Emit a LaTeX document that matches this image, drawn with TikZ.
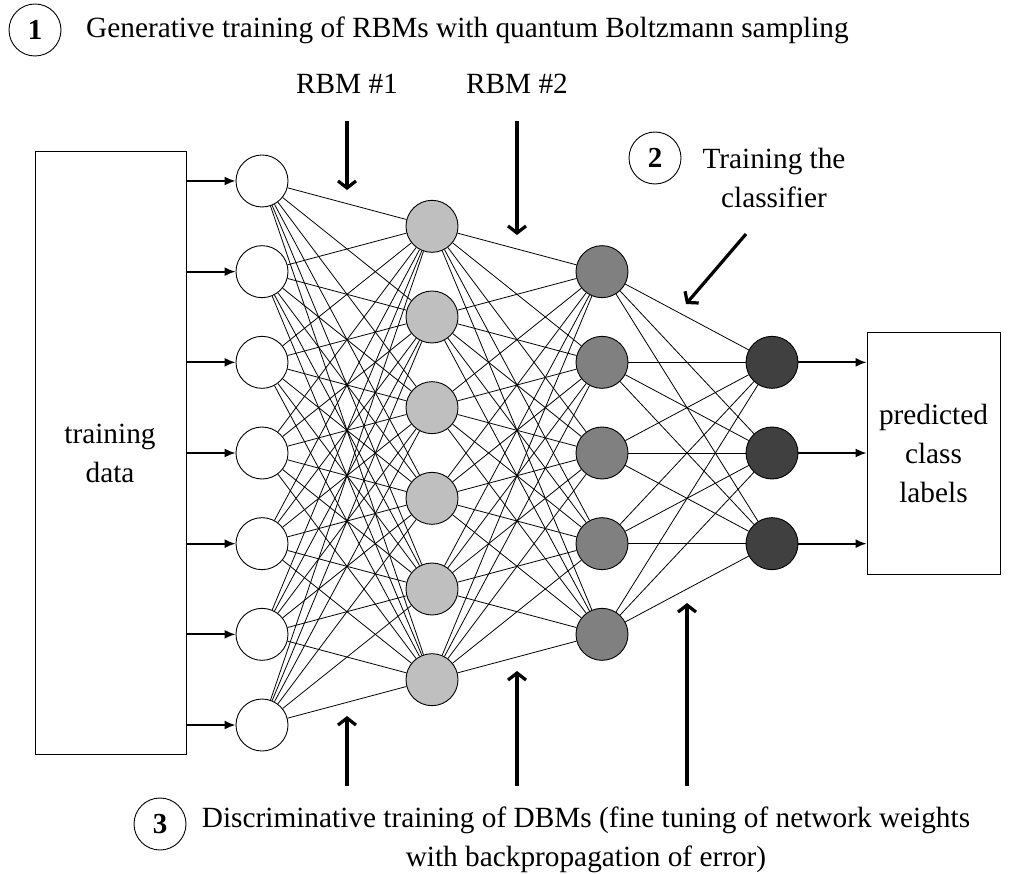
\documentclass[tikz,border=0pt]{standalone}
\usepackage{fontspec}
\setmainfont{Liberation Serif}
\usetikzlibrary{arrows.meta}
\tikzset{
  neuron/.style={circle, draw, line width=0.9pt, minimum size=52pt, inner sep=0pt},
  lay1/.style={neuron, fill=white},
  lay2/.style={neuron, fill=black!25},
  lay3/.style={neuron, fill=black!50},
  lay4/.style={neuron, fill=black!75},
  conn/.style={line width=0.8pt},
  inarrow/.style={line width=1.8pt, -{Latex[length=11pt,width=9pt]}},
  bigarrow/.style={line width=3.2pt, -{Straight Barb[length=7pt,width=18pt]}},
  numcirc/.style={circle, draw, line width=0.9pt, minimum size=52pt, inner sep=0pt, font=\fontsize{29}{34}\selectfont\bfseries},
  box/.style={draw, line width=0.9pt, inner sep=0pt},
  lbl/.style={align=center, inner sep=0pt}
}
\begin{document}
\begin{tikzpicture}[x=1pt, y=-1pt, font=\fontsize{29.3}{39}\selectfont]
\useasboundingbox (0,0) rectangle (1011,874);
\def\sp{90.67}
% boxes
\node[box, minimum width=151pt, minimum height=603pt] (tdata) at (110.5,452.5) {};
\node[lbl] (tdtext) at (110,453) {training\\data};
\node[box, minimum width=133pt, minimum height=242pt] (pred) at (933.5,453) {};
\node[lbl] (predtext) at (933.5,453) {predicted\\class\\labels};
% neurons
\foreach \k [count=\i] in {-3,...,3} \node[lay1] (a\i) at (262,453+\k*\sp) {};
\foreach \k [count=\i] in {-3,...,2} \node[lay2] (b\i) at (432,453+\k*\sp+0.5*\sp) {};
\foreach \k [count=\i] in {-2,...,2} \node[lay3] (c\i) at (602,453+\k*\sp) {};
\foreach \k [count=\i] in {-1,...,1} \node[lay4] (d\i) at (772,453+\k*\sp) {};
% connections
\foreach \i in {1,...,7} \foreach \j in {1,...,6} \draw[conn] (a\i) -- (b\j);
\foreach \i in {1,...,6} \foreach \j in {1,...,5} \draw[conn] (b\i) -- (c\j);
\foreach \i in {1,...,5} \foreach \j in {1,...,3} \draw[conn] (c\i) -- (d\j);
% input / output arrows
\foreach \i in {1,...,7} \draw[inarrow] (tdata.east |- a\i) -- (a\i);
\foreach \i in {1,...,3} \draw[inarrow] (d\i) -- (pred.west |- d\i);
% headings
\node[numcirc] (n1) at (35,30) {1};
\node[lbl, anchor=west] (h1) at (86,30) {Generative training of RBMs with quantum Boltzmann sampling};
\node[lbl] (rbm1) at (347,84) {RBM \#1};
\node[lbl] (rbm2) at (517,84) {RBM \#2};
\coordinate (r1s) at (347,121); \coordinate (r1e) at (347,190);
\coordinate (r2s) at (517,121); \coordinate (r2e) at (517,235);
\draw[bigarrow] (r1s) -- (r1e);
\draw[bigarrow] (r2s) -- (r2e);
\node[numcirc] (n2) at (655,158) {2};
\node[lbl] (h2) at (774,178) {Training the\\classifier};
\coordinate (cs) at (746,234); \coordinate (ce) at (686,304);
\draw[bigarrow] (cs) -- (ce);
% bottom arrows
\coordinate (u1s) at (347,786); \coordinate (u1e) at (347,716);
\coordinate (u2s) at (517,786); \coordinate (u2e) at (517,671);
\coordinate (u3s) at (687,786); \coordinate (u3e) at (687,603);
\draw[bigarrow] (u1s) -- (u1e);
\draw[bigarrow] (u2s) -- (u2e);
\draw[bigarrow] (u3s) -- (u3e);
\node[numcirc] (n3) at (160,824) {3};
\node[lbl] (h3) at (586,840) {Discriminative training of DBMs (fine tuning of network weights\\with backpropagation of error)};
\end{tikzpicture}
\end{document}
